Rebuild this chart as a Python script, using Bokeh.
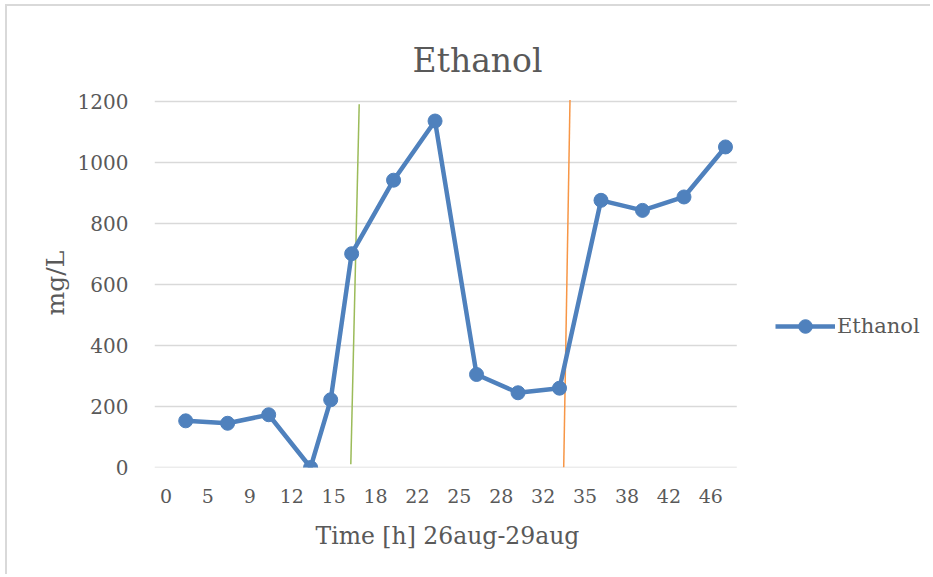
from bokeh.plotting import figure
from bokeh.models import Range1d, FixedTicker, Legend, LegendItem, ColumnDataSource, Label, Title
from bokeh.embed import file_html
from bokeh.resources import INLINE

# tick labels (hours) shown under the x axis
tick_labels = ["0", "5", "9", "12", "15", "18", "22", "25", "28", "32", "35", "38", "42", "46"]
# sample positions along the x axis (in tick-label slots) and ethanol values (mg/L)
sample_pos = [0.47, 1.47, 2.45, 3.45, 3.93, 4.43, 5.43, 6.42, 7.41, 8.40, 9.39, 10.38, 11.37, 12.36, 13.35]
ethanol = [153, 145, 173, 0, 222, 701, 942, 1136, 305, 245, 260, 876, 843, 887, 1051]
# marker lines
green_x = [4.41, 4.61]
green_y = [11, 1191]
orange_x = [9.49, 9.64]
orange_y = [0, 1205]
# value axis
y_ticks = [0, 200, 400, 600, 800, 1000, 1200]

FONT = "DejaVu Serif"
GRAY = "#595959"

# plot area spans the tick slots from -0.27 to 13.62 and values 0..1200;
# the canvas continues to the right (legend) and upward (title)
AXIS_START, AXIS_END, CANVAS_END = -0.2745, 13.62, 18.29
Y_TOP = 1511.5

p = figure(width=925, height=570, output_backend="svg", toolbar_location=None,
           x_range=Range1d(AXIS_START, CANVAS_END), y_range=Range1d(0, Y_TOP),
           min_border_left=147, min_border_right=0, min_border_top=0, min_border_bottom=109)
p.styles = {"border-left": "2px solid #d9d9d9", "border-top": "2px solid #d9d9d9",
            "margin-left": "5px", "margin-top": "4px"}
p.outline_line_color = None
p.background_fill_color = "white"
p.border_fill_color = "white"

p.xgrid.grid_line_color = None
p.ygrid.grid_line_color = None
p.yaxis.ticker = FixedTicker(ticks=y_ticks)
p.xaxis.ticker = FixedTicker(ticks=list(range(len(tick_labels))))
p.xaxis.major_label_overrides = {i: t for i, t in enumerate(tick_labels)}

# horizontal gridlines limited to the plot area
p.segment(x0=[AXIS_START] * len(y_ticks), x1=[AXIS_END] * len(y_ticks), y0=y_ticks, y1=y_ticks,
          line_color="#d9d9d9", line_width=1.5)

for ax in (p.xaxis[0], p.yaxis[0]):
    ax.axis_line_color = None
    ax.major_tick_line_color = None
    ax.minor_tick_line_color = None
    ax.major_label_text_font = FONT
    ax.major_label_text_font_size = "19px"
    ax.major_label_text_color = GRAY

p.yaxis.major_label_text_font_size = "20px"
p.yaxis.major_label_standoff = 20
p.xaxis.major_label_standoff = 15

# axis titles, placed beside the plot area
xtitle = Title(text="Time [h] 26aug-29aug", align="left", offset=161, standoff=29,
               text_font=FONT, text_font_size="23.5px", text_font_style="normal", text_color=GRAY)
p.add_layout(xtitle, "below")
ytitle = Title(text="mg/L", align="left", offset=152, standoff=10,
               text_font=FONT, text_font_size="25px", text_font_style="normal", text_color=GRAY)
p.add_layout(ytitle, "left")

# chart title
title = Label(x=7.434, y=1334, text="Ethanol", text_align="center", text_baseline="alphabetic",
              text_font=FONT, text_font_size="33px", text_color=GRAY)
p.add_layout(title)

p.line(green_x, green_y, line_color="#9BBB59", line_width=1.5)
p.line(orange_x, orange_y, line_color="#F79646", line_width=1.5)

src = ColumnDataSource(dict(x=sample_pos, y=ethanol))
ln = p.line("x", "y", source=src, line_color="#4F81BD", line_width=4.5)
sc = p.scatter("x", "y", source=src, size=14, fill_color="#4F81BD", line_color="#4F81BD")

legend = Legend(items=[LegendItem(label="Ethanol", renderers=[ln, sc])],
                location=(621, 124), glyph_width=60, glyph_height=34,
                label_text_font=FONT, label_text_font_size="21px", label_text_color=GRAY,
                border_line_color=None, background_fill_alpha=0, label_standoff=2,
                padding=0, margin=0)
p.add_layout(legend, "center")

open("out.html", "w").write(file_html(p, INLINE))
